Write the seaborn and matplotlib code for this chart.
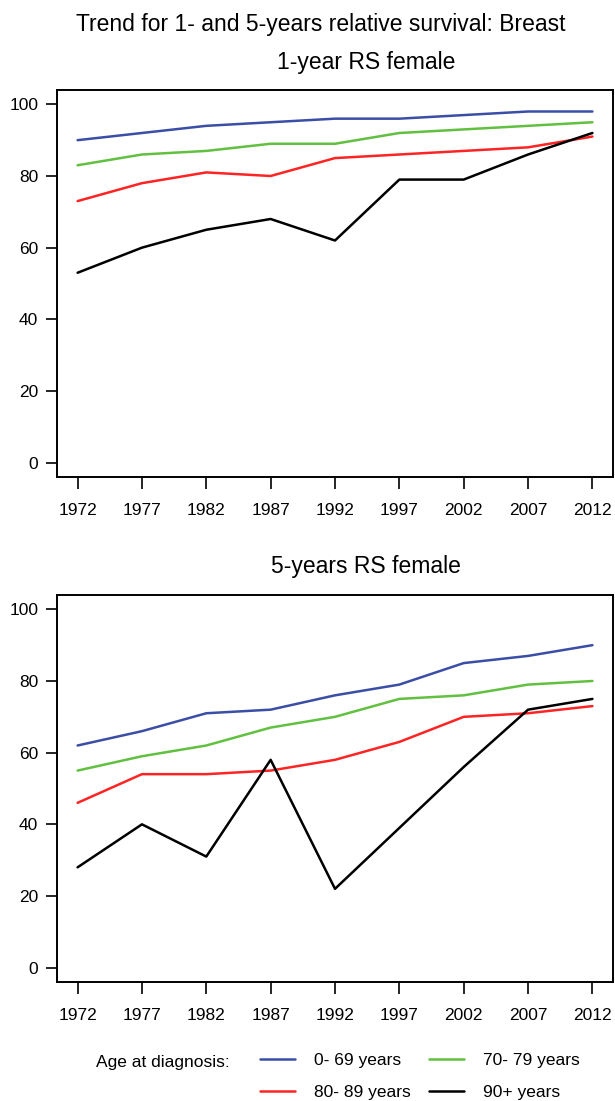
import matplotlib
matplotlib.use("Agg")
import matplotlib.pyplot as plt
import seaborn as sns
import pandas as pd

# data
years = [1972, 1977, 1982, 1987, 1992, 1997, 2002, 2007, 2012]
age_groups = ["0- 69 years", "70- 79 years", "80- 89 years", "90+ years"]

rs1_0_69 = [90, 92, 94, 95, 96, 96, 97, 98, 98]
rs1_70_79 = [83, 86, 87, 89, 89, 92, 93, 94, 95]
rs1_80_89 = [73, 78, 81, 80, 85, 86, 87, 88, 91]
rs1_90 = [53, 60, 65, 68, 62, 79, 79, 86, 92]

rs5_0_69 = [62, 66, 71, 72, 76, 79, 85, 87, 90]
rs5_70_79 = [55, 59, 62, 67, 70, 75, 76, 79, 80]
rs5_80_89 = [46, 54, 54, 55, 58, 63, 70, 71, 73]
rs5_90 = [28, 40, 31, 58, 22, 39, 56, 72, 75]

colors = ["#3b4ea6", "#62c040", "#ff2424", "#000000"]


def long_df(series):
    rows = []
    for grp, vals in zip(age_groups, series):
        for yr, v in zip(years, vals):
            rows.append({"year": yr, "rs": v, "age": grp})
    return pd.DataFrame(rows)


df1 = long_df([rs1_0_69, rs1_70_79, rs1_80_89, rs1_90])
df5 = long_df([rs5_0_69, rs5_70_79, rs5_80_89, rs5_90])

sns.set_style("ticks", {"axes.edgecolor": "black", "xtick.color": "black",
                        "ytick.color": "black", "text.color": "black"})
plt.rcParams["font.family"] = ["Liberation Sans", "DejaVu Sans"]
plt.rcParams["text.color"] = "black"

W, H = 615, 1101
fig = plt.figure(figsize=(W / 100, H / 100), dpi=100)


def px_axes(left, top, right, bottom):
    return fig.add_axes([left / W, 1 - bottom / H, (right - left) / W, (bottom - top) / H])


ax1 = px_axes(57, 90, 613, 477)
ax2 = px_axes(57, 595, 613, 982)

for ax, df in [(ax1, df1), (ax2, df5)]:
    sns.lineplot(data=df, x="year", y="rs", hue="age", hue_order=age_groups,
                 palette=colors, linewidth=1.8, ax=ax, legend=False)
    ax.set_xlim(1970.4, 2013.6)
    ax.set_ylim(-4, 104)
    ax.set_xticks(years)
    ax.set_yticks([0, 20, 40, 60, 80, 100])
    ax.set_xlabel("")
    ax.set_ylabel("")
    for s in ax.spines.values():
        s.set_visible(True)
        s.set_linewidth(1.4)
        s.set_color("black")
    ax.tick_params(axis="x", length=8.5, width=1.2, pad=10, labelsize=12.5,
                   colors="black")
    ax.tick_params(axis="y", length=8, width=1.2, pad=5.5, labelsize=12.5,
                   colors="black")

fig.text(321 / W, 1 - 24 / H, "Trend for 1- and 5-years relative survival: Breast",
         ha="center", va="center", fontsize=16.5)
fig.text(366 / W, 1 - 62 / H, "1-year RS female", ha="center", va="center", fontsize=16.5)
fig.text(366 / W, 1 - 566 / H, "5-years RS female", ha="center", va="center", fontsize=16.5)

# legend
handles = ax1.get_lines()[:4]
order = [0, 2, 1, 3]
fig.legend([handles[i] for i in order], [age_groups[i] for i in order],
           ncol=2, frameon=False, loc="upper left",
           bbox_to_anchor=(260 / W, 1 - 1053 / H), borderpad=0, borderaxespad=0,
           handlelength=2.0, handletextpad=1.1, columnspacing=1.05,
           labelspacing=0.95, fontsize=12.5)
fig.text(96 / W, 1 - 1062 / H, "Age at diagnosis:", ha="left", va="center", fontsize=12.5)

fig.savefig("out.png", dpi=100)
